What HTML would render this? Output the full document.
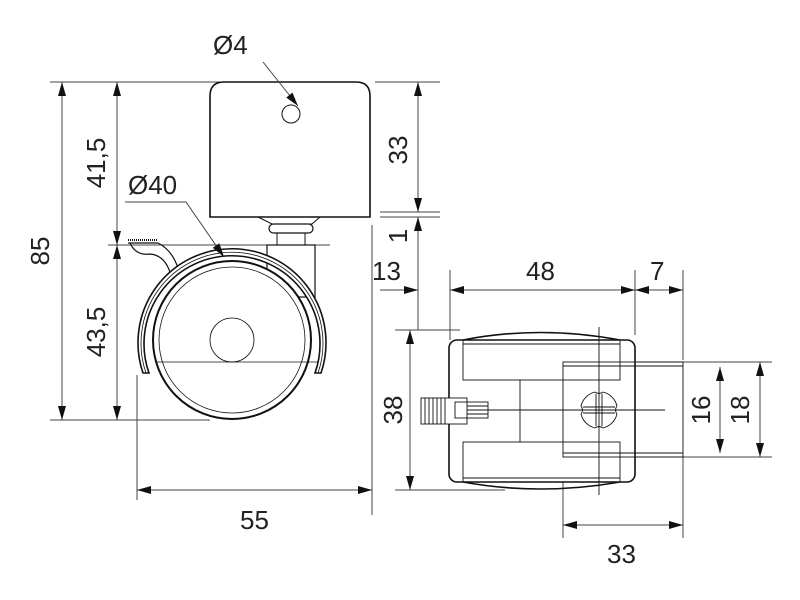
<!DOCTYPE html>
<html><head><style>body{margin:0;background:#fff}svg{display:block}text{font-family:"Liberation Sans",sans-serif;font-size:26px;fill:#222}</style></head><body>
<svg width="800" height="600" viewBox="0 0 800 600" xmlns="http://www.w3.org/2000/svg">
<defs><marker id="a" viewBox="0 0 14 8" refX="14" refY="4" markerWidth="14" markerHeight="8" markerUnits="userSpaceOnUse" orient="auto-start-reverse"><path d="M0,0L14,4L0,8z" fill="#111"/></marker></defs>
<g stroke="#444" stroke-width="1" fill="none">
<path d="M50,82H220M375,82H440M380,212H440M380,217H440M50,420H210M108,245H330M137,375V500M372,225V515M418,240V330M450,270V340M635,270V335M683,270V360M395,330H460M395,490H505M560,362H772M560,457H772M563,455V538M683,455V538"/>
<path d="M62,82V420" marker-start="url(#a)" marker-end="url(#a)"/>
<path d="M117,82V245" marker-start="url(#a)" marker-end="url(#a)"/>
<path d="M117,245V420" marker-start="url(#a)" marker-end="url(#a)"/>
<path d="M418,82V212" marker-start="url(#a)" marker-end="url(#a)"/>
<path d="M418,242V217" marker-end="url(#a)"/>
<path d="M137,490H372" marker-start="url(#a)" marker-end="url(#a)"/>
<path d="M380,290H418" marker-end="url(#a)"/>
<path d="M450,290H635" marker-start="url(#a)" marker-end="url(#a)"/>
<path d="M635,290H683" marker-start="url(#a)" marker-end="url(#a)"/>
<path d="M410,330V490" marker-start="url(#a)" marker-end="url(#a)"/>
<path d="M720,367V453" marker-start="url(#a)" marker-end="url(#a)"/>
<path d="M760,362V457" marker-start="url(#a)" marker-end="url(#a)"/>
<path d="M563,525H683" marker-start="url(#a)" marker-end="url(#a)"/>
</g>
<g stroke="#111" fill="none" stroke-width="1.6">
<path d="M210,217V96Q210,82 224,82H356Q370,82 370,96V217Z" fill="#fff"/>
<circle cx="291" cy="114" r="9" stroke-width="1"/>
<path d="M258,217L272,224H312L320,217" stroke-width="1"/>
<rect x="269" y="224" width="44" height="9" rx="4.5" stroke-width="1.2"/>
<rect x="277" y="233" width="28" height="12" stroke-width="1"/>
<rect x="267" y="245" width="48" height="52" stroke-width="1.2"/>
<path d="M128,243H158M130,243Q136,256 150,254Q164,255 170,272" stroke-width="1.2"/>
<path d="M158,243Q172,250 178,268" stroke-width="1.2"/>
<path d="M128,240H158" stroke-width="2" stroke-dasharray="1,1"/>
<path d="M143,373A94,94 0 1 1 321,373L315,373A88,88 0 1 0 149,373Z" fill="#fff"/>
<path d="M146,373A91,91 0 1 1 318,373" stroke-width="0.8"/>
<circle cx="232" cy="340" r="79" fill="#fff" stroke-width="2"/>
<circle cx="232" cy="340" r="73" stroke-width="0.8"/>
<circle cx="232" cy="340" r="22" stroke-width="0.8"/>
<path d="M157,362H318" stroke-width="0.8"/>
<path d="M463,340Q540,325 620,340" stroke-width="1.6"/>
<path d="M463,482Q540,496 620,482" stroke-width="1.6"/>
<rect x="449" y="340" width="186" height="142" rx="8" fill="#fff"/>
<g stroke-width="0.9">
<rect x="463" y="340" width="157" height="40"/>
<rect x="463" y="442" width="157" height="40"/>
<path d="M463,344H620M463,478H620M520,380V442"/>
<rect x="563" y="362" width="120" height="95"/>
<path d="M563,366H683M563,453H683M440,410H665M599,327V495"/>
<rect x="421" y="398" width="46" height="26" fill="#fff"/>
<path d="M425,398V424M429,398V424M433,398V424M437,398V424M441,398V424M445,398V424"/>
<rect x="455" y="402" width="33" height="16"/>
<path d="M467,406H488M467,414H488"/>
<path d="M595,392A19,19 0 0 0 581,406M581,414A19,19 0 0 0 595,428M603,428A19,19 0 0 0 617,414M617,406A19,19 0 0 0 603,392"/>
<path d="M581,406Q584,410 581,414M617,406Q614,410 617,414M595,392Q599,395 603,392M595,428Q599,425 603,428"/>
<path d="M596,394V426M602,394V426M583,407H615M583,413H615"/>
</g>
</g>
<g stroke="#444" stroke-width="1" fill="none">
<path d="M125,202H186L224,257" marker-end="url(#a)"/>
<path d="M263,62L298,106" marker-end="url(#a)"/>
</g>
<text x="213" y="54">Ø4</text>
<text x="128" y="194">Ø40</text>
<text x="240" y="529">55</text>
<text x="372" y="280">13</text>
<text x="526" y="280">48</text>
<text x="650" y="280">7</text>
<text x="607" y="563">33</text>
<text transform="translate(49,251) rotate(-90)" text-anchor="middle">85</text>
<text transform="translate(105,163) rotate(-90)" text-anchor="middle">41,5</text>
<text transform="translate(105,332) rotate(-90)" text-anchor="middle">43,5</text>
<text transform="translate(407,150) rotate(-90)" text-anchor="middle">33</text>
<text transform="translate(407,236) rotate(-90)" text-anchor="middle">1</text>
<text transform="translate(402,410) rotate(-90)" text-anchor="middle">38</text>
<text transform="translate(710,410) rotate(-90)" text-anchor="middle">16</text>
<text transform="translate(749,410) rotate(-90)" text-anchor="middle">18</text>
</svg>
</body></html>
